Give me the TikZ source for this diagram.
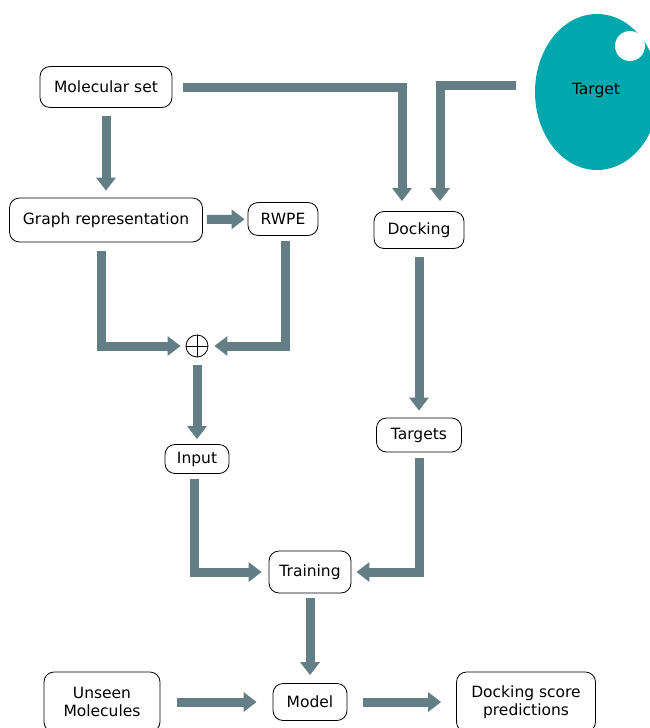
\documentclass[tikz,border=0pt]{standalone}
\usepackage{fontspec}
\setmainfont{DejaVu Sans}
\usetikzlibrary{arrows.meta,shapes.geometric}
\definecolor{flowgray}{RGB}{100,126,134}
\definecolor{targetteal}{RGB}{0,168,173}
\tikzset{
  box/.style={draw, rounded corners=10pt, line width=0.8pt, fill=white, inner sep=2pt,
    font=\fontsize{15.5}{18}\selectfont, align=center},
  flow/.style={draw=flowgray, line width=9pt, -{Triangle[width=19pt,length=13pt]},
    shorten <=8pt, shorten >=7pt}
}
\begin{document}
\begin{tikzpicture}[x=1pt, y=-1pt]
          \clip (0,0) rectangle (650,728);
          \fill[white] (0,0) rectangle (650,728);

          % target protein
          \node[ellipse, fill=targetteal, minimum width=124pt, minimum height=156pt,
            font=\fontsize{15.5}{18}\selectfont] (target) at (597,92) {};
          \fill[white] (630,46) circle (15);
          \node[font=\fontsize{15.5}{18}\selectfont] (targetlabel) at (596,90) {Target};

          \node[box, minimum width=132pt, minimum height=41pt] (mol) at (106,87) {Molecular set};
          \node[box, minimum width=193pt, minimum height=44pt] (graph) at (106,220) {Graph representation};
          \node[box, minimum width=70pt, minimum height=33pt] (rwpe) at (283,219) {RWPE};
          \node[box, minimum width=90pt, minimum height=37pt] (dock) at (419,230) {Docking};
          \node[draw, circle, line width=0.8pt, minimum size=22pt, inner sep=0pt] (plus) at (197,346) {};
          \draw[line width=0.8pt] (plus.north) -- (plus.south) (plus.west) -- (plus.east);
          \node[box, minimum width=64pt, minimum height=29pt] (input) at (197,459) {Input};
          \node[box, minimum width=85pt, minimum height=34pt] (targets) at (419,435) {Targets};
          \node[box, minimum width=82pt, minimum height=42pt] (train) at (310,572) {Training};
          \node[box, minimum width=74pt, minimum height=37pt] (model) at (310,702) {Model};
          \node[box, minimum width=116pt, minimum height=60pt] (unseen) at (102,702) {Unseen\\Molecules};
          \node[box, minimum width=139pt, minimum height=60pt] (pred) at (526,702) {Docking score\\predictions};

          % arrows
          \draw[flow] (mol) -- (graph);
          \draw[flow, shorten <=11pt, shorten >=10pt] (mol.east) -| ([xshift=-17pt]dock.north);
          \draw[flow, shorten <=19pt, shorten >=10pt] ([yshift=7pt]target.west) -| ([xshift=21pt]dock.north);
          \draw[flow, shorten <=4pt, shorten >=3pt] (graph) -- (rwpe);
          \draw[flow, shorten <=9pt, shorten >=5pt] ([xshift=-5pt]graph.south) |- (plus.west);
          \draw[flow, shorten <=5pt, shorten >=6pt] ([xshift=2pt]rwpe.south) |- (plus.east);
          \draw[flow, shorten >=5pt] (plus) -- (input);
          \draw[flow] (dock) -- (targets);
          \draw[flow, shorten <=5pt] ([xshift=-3pt]input.south) |- (train.west);
          \draw[flow, shorten <=6pt, shorten >=5pt] (targets.south) |- (train.east);
          \draw[flow, shorten <=5pt, shorten >=8pt] (train) -- (model);
          \draw[flow, shorten <=17pt, shorten >=16pt] (unseen.east) -- (model.west);
          \draw[flow, shorten <=16pt, shorten >=15pt] (model.east) -- (pred.west);

        \end{tikzpicture}
\end{document}
